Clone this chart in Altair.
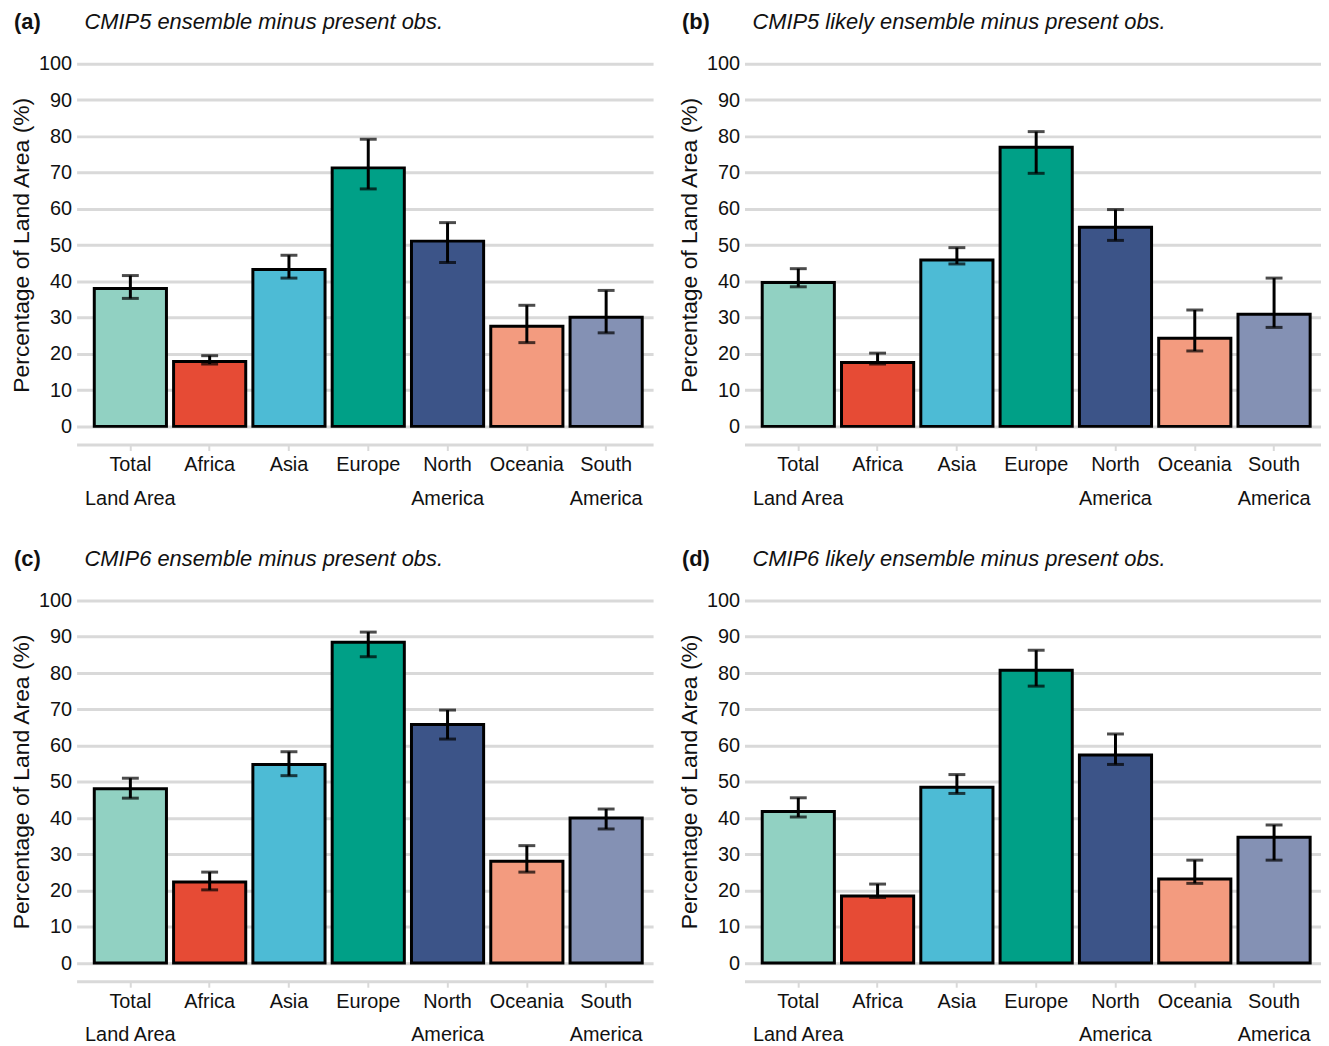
import altair as alt
import pandas as pd

FONT = "Liberation Sans"

categories = ["Total Land Area", "Africa", "Asia", "Europe",
              "North America", "Oceania", "South America"]
colors = ["#91D1C2", "#E64B35", "#4DBBD5", "#00A087",
          "#3C5488", "#F39B7F", "#8491B4"]

panel_letters = ["(a)", "(b)", "(c)", "(d)"]
panel_titles = ["CMIP5 ensemble minus present obs.",
                "CMIP5 likely ensemble minus present obs.",
                "CMIP6 ensemble minus present obs.",
                "CMIP6 likely ensemble minus present obs."]

a_mid = [38.0, 17.9, 43.3, 71.3, 51.1, 27.6, 30.1]
a_lo = [35.3, 17.2, 40.9, 65.5, 45.2, 23.1, 25.8]
a_hi = [41.6, 19.5, 47.2, 79.2, 56.2, 33.4, 37.5]

b_mid = [39.7, 17.6, 45.9, 77.0, 54.9, 24.3, 30.9]
b_lo = [38.5, 17.2, 44.8, 69.8, 51.3, 20.8, 27.3]
b_hi = [43.5, 20.2, 49.3, 81.3, 59.8, 32.1, 40.9]

c_mid = [48.1, 22.4, 54.8, 88.5, 65.8, 28.1, 40.0]
c_lo = [45.5, 20.2, 51.7, 84.5, 61.8, 25.1, 37.0]
c_hi = [51.0, 25.1, 58.3, 91.3, 69.8, 32.4, 42.5]

d_mid = [41.8, 18.5, 48.5, 80.8, 57.4, 23.2, 34.7]
d_lo = [40.3, 18.1, 46.8, 76.4, 54.8, 22.0, 28.4]
d_hi = [45.6, 21.8, 52.0, 86.3, 63.2, 28.4, 38.1]

y_ticks = list(range(0, 101, 10))
Y_TITLE = "Percentage of Land Area (%)"
GRID = "#d9d9d9"
TEXT = "#111111"

label_expr = ("datum.label == 'Total Land Area' ? ['Total', 'Land Area'] : "
              "split(datum.label, ' ')")


def panel(letter, title, mid, lo, hi):
    df = pd.DataFrame({"region": categories, "mid": mid, "lo": lo, "hi": hi})
    xscale = alt.Scale(domain=categories, paddingInner=0.09,
                       paddingOuter=0.18, align=0.62)
    xaxis = alt.Axis(title=None, labelAngle=0, labelExpr=label_expr,
                     domainColor=GRID, domainWidth=3, tickColor=GRID,
                     tickWidth=2, tickSize=6, labelFontSize=20,
                     labelLineHeight=34, labelPadding=4, labelColor=TEXT,
                     labelFont=FONT, grid=False)
    yscale = alt.Scale(domain=[-5, 100], nice=False, zero=False)
    yaxis = alt.Axis(values=y_ticks, title=Y_TITLE, grid=True, gridColor=GRID,
                     gridWidth=3, domain=False, ticks=False, labelFontSize=20,
                     labelPadding=5, labelColor=TEXT, labelFont=FONT,
                     labelOverlap=False,
                     titleFont=FONT, titleFontSize=23, titleFontWeight="normal",
                     titleColor=TEXT, titleX=-55, titleY=182,
                     titleBaseline="middle", titleAngle=-90, titleAlign="center")
    base = alt.Chart(df)
    x = alt.X("region:N", sort=categories, scale=xscale, axis=xaxis)
    bars = base.mark_bar(stroke="black", strokeWidth=3).encode(
        x=x,
        y=alt.Y("mid:Q", scale=yscale, axis=yaxis, title=Y_TITLE),
        y2=alt.datum(0),
        color=alt.Color("region:N", scale=alt.Scale(domain=categories, range=colors),
                        legend=None),
    )
    rules = base.mark_rule(color="black", strokeWidth=3).encode(
        x=x,
        y=alt.Y("lo:Q", scale=yscale, axis=yaxis, title=Y_TITLE),
        y2="hi:Q",
    )
    cap_lo = base.mark_tick(color="black", thickness=3, size=17).encode(
        x=x,
        y=alt.Y("lo:Q", scale=yscale, axis=yaxis, title=Y_TITLE),
    )
    cap_hi = base.mark_tick(color="black", thickness=3, size=17).encode(
        x=x,
        y=alt.Y("hi:Q", scale=yscale, axis=yaxis, title=Y_TITLE),
    )
    tdf = pd.DataFrame({"letter": [letter], "title": [title]})
    letter_t = alt.Chart(tdf).mark_text(
        align="left", baseline="alphabetic", fontSize=22, fontWeight="bold",
        font=FONT, color=TEXT
    ).encode(text="letter:N", x=alt.value(-63), y=alt.value(-35))
    title_t = alt.Chart(tdf).mark_text(
        align="left", baseline="alphabetic", fontSize=22, fontStyle="italic",
        font=FONT, color=TEXT
    ).encode(text="title:N", x=alt.value(8), y=alt.value(-35))
    return alt.layer(bars, rules, cap_lo, cap_hi, letter_t, title_t).properties(
        width=580, height=383
    )


p = [panel(panel_letters[0], panel_titles[0], a_mid, a_lo, a_hi),
     panel(panel_letters[1], panel_titles[1], b_mid, b_lo, b_hi),
     panel(panel_letters[2], panel_titles[2], c_mid, c_lo, c_hi),
     panel(panel_letters[3], panel_titles[3], d_mid, d_lo, d_hi)]

chart = alt.vconcat(
    alt.hconcat(p[0], p[1], spacing=26),
    alt.hconcat(p[2], p[3], spacing=26),
    spacing=40,
).configure(
    font=FONT, padding={"left": 3, "top": 0, "right": 0, "bottom": 0},
    background="white"
).configure_view(stroke=None)

chart.save("out.html", embed_options={"renderer": "svg", "actions": False})
